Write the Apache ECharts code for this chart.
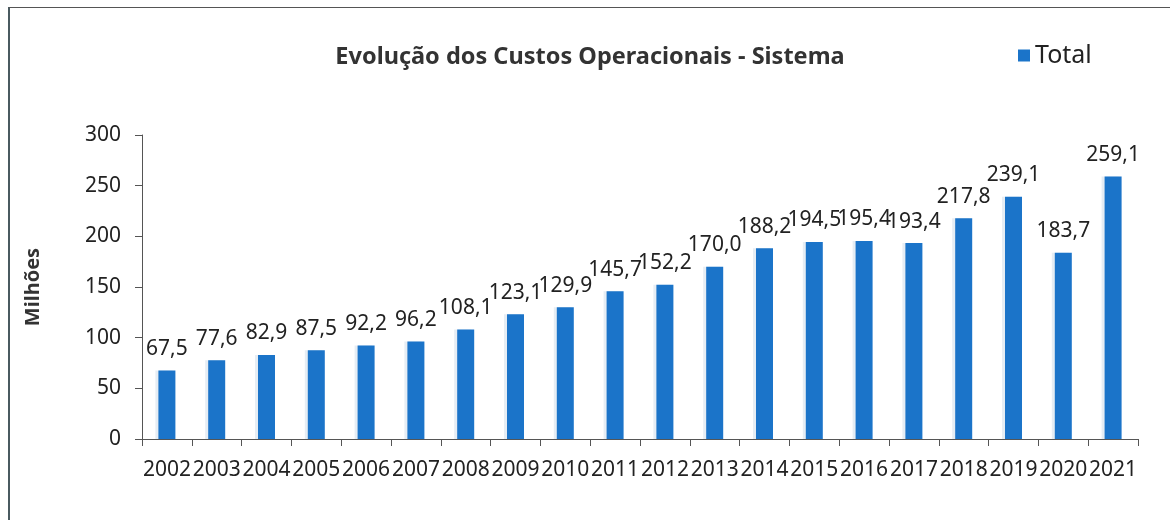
<!DOCTYPE html>
<html>
<head>
<meta charset="utf-8">
<script src="https://cdn.jsdelivr.net/npm/echarts@6/dist/echarts.min.js"></script>
<style>
  html, body { margin: 0; padding: 0; background: #fff; }
  #chart { width: 1170px; height: 520px; position: relative; }
  .frame {
    position: absolute; left: 8px; top: 7px; width: 1200px; height: 600px;
    border-top: 1.5px solid #555; border-left: 2px solid #4a5a60;
    pointer-events: none;
  }
</style>
</head>
<body>
<div id="chart"></div>
<div class="frame"></div>
<script>
// anos e custos (milhões)
const years = ['2002', '2003', '2004', '2005', '2006', '2007', '2008', '2009', '2010', '2011',
  '2012', '2013', '2014', '2015', '2016', '2017', '2018', '2019', '2020', '2021'];
const totals = [67.5, 77.6, 82.9, 87.5, 92.2, 96.2, 108.1, 123.1, 129.9, 145.7,
  152.2, 170.0, 188.2, 194.5, 195.4, 193.4, 217.8, 239.1, 183.7, 259.1];

const fontName = 'Noto Sans';
const textColor = '#222';

const chart = echarts.init(document.getElementById('chart'));

const option = {
  animation: false,
  title: {
    text: 'Evolução dos Custos Operacionais - Sistema',
    left: 585,
    top: 40,
    textAlign: 'center',
    textStyle: { fontFamily: fontName, fontSize: 23.5, fontWeight: 'bold', color: '#333' }
  },
  legend: {
    data: ['Total'],
    left: 1013,
    top: 38,
    itemWidth: 12,
    itemHeight: 12,
    itemGap: 8,
    icon: 'rect',
    textStyle: { fontFamily: fontName, fontSize: 25, color: textColor }
  },
  grid: { left: 142, right: 32, top: 135, bottom: 81 },
  xAxis: {
    type: 'category',
    data: years,
    axisLine: { lineStyle: { color: '#555', width: 1 } },
    axisTick: { show: true, length: 7, lineStyle: { color: '#555' } },
    axisLabel: {
      interval: 0, margin: 21,
      fontFamily: fontName, fontSize: 21, color: textColor
    }
  },
  yAxis: {
    type: 'value',
    min: 0,
    max: 300,
    interval: 50,
    name: 'Milhões',
    nameLocation: 'middle',
    nameGap: 99,
    nameTextStyle: { fontFamily: fontName, fontSize: 20, fontWeight: 'bold', color: '#333' },
    splitLine: { show: false },
    axisLine: { show: true, lineStyle: { color: '#555', width: 1 } },
    axisTick: { show: true, length: 7, lineStyle: { color: '#555' } },
    axisLabel: { margin: 21, fontFamily: fontName, fontSize: 21, color: textColor }
  },
  series: [{
    name: 'Total',
    type: 'bar',
    data: totals,
    barWidth: 17,
    itemStyle: {
      color: '#1b74c9',
      shadowColor: 'rgba(200,215,230,0.45)',
      shadowOffsetX: -3,
      shadowBlur: 0
    },
    label: {
      show: true,
      position: 'top',
      distance: 11,
      fontFamily: fontName,
      fontSize: 21,
      color: textColor,
      formatter: p => p.value.toFixed(1).replace('.', ',')
    }
  }]
};

chart.setOption(option);
</script>
</body>
</html>
